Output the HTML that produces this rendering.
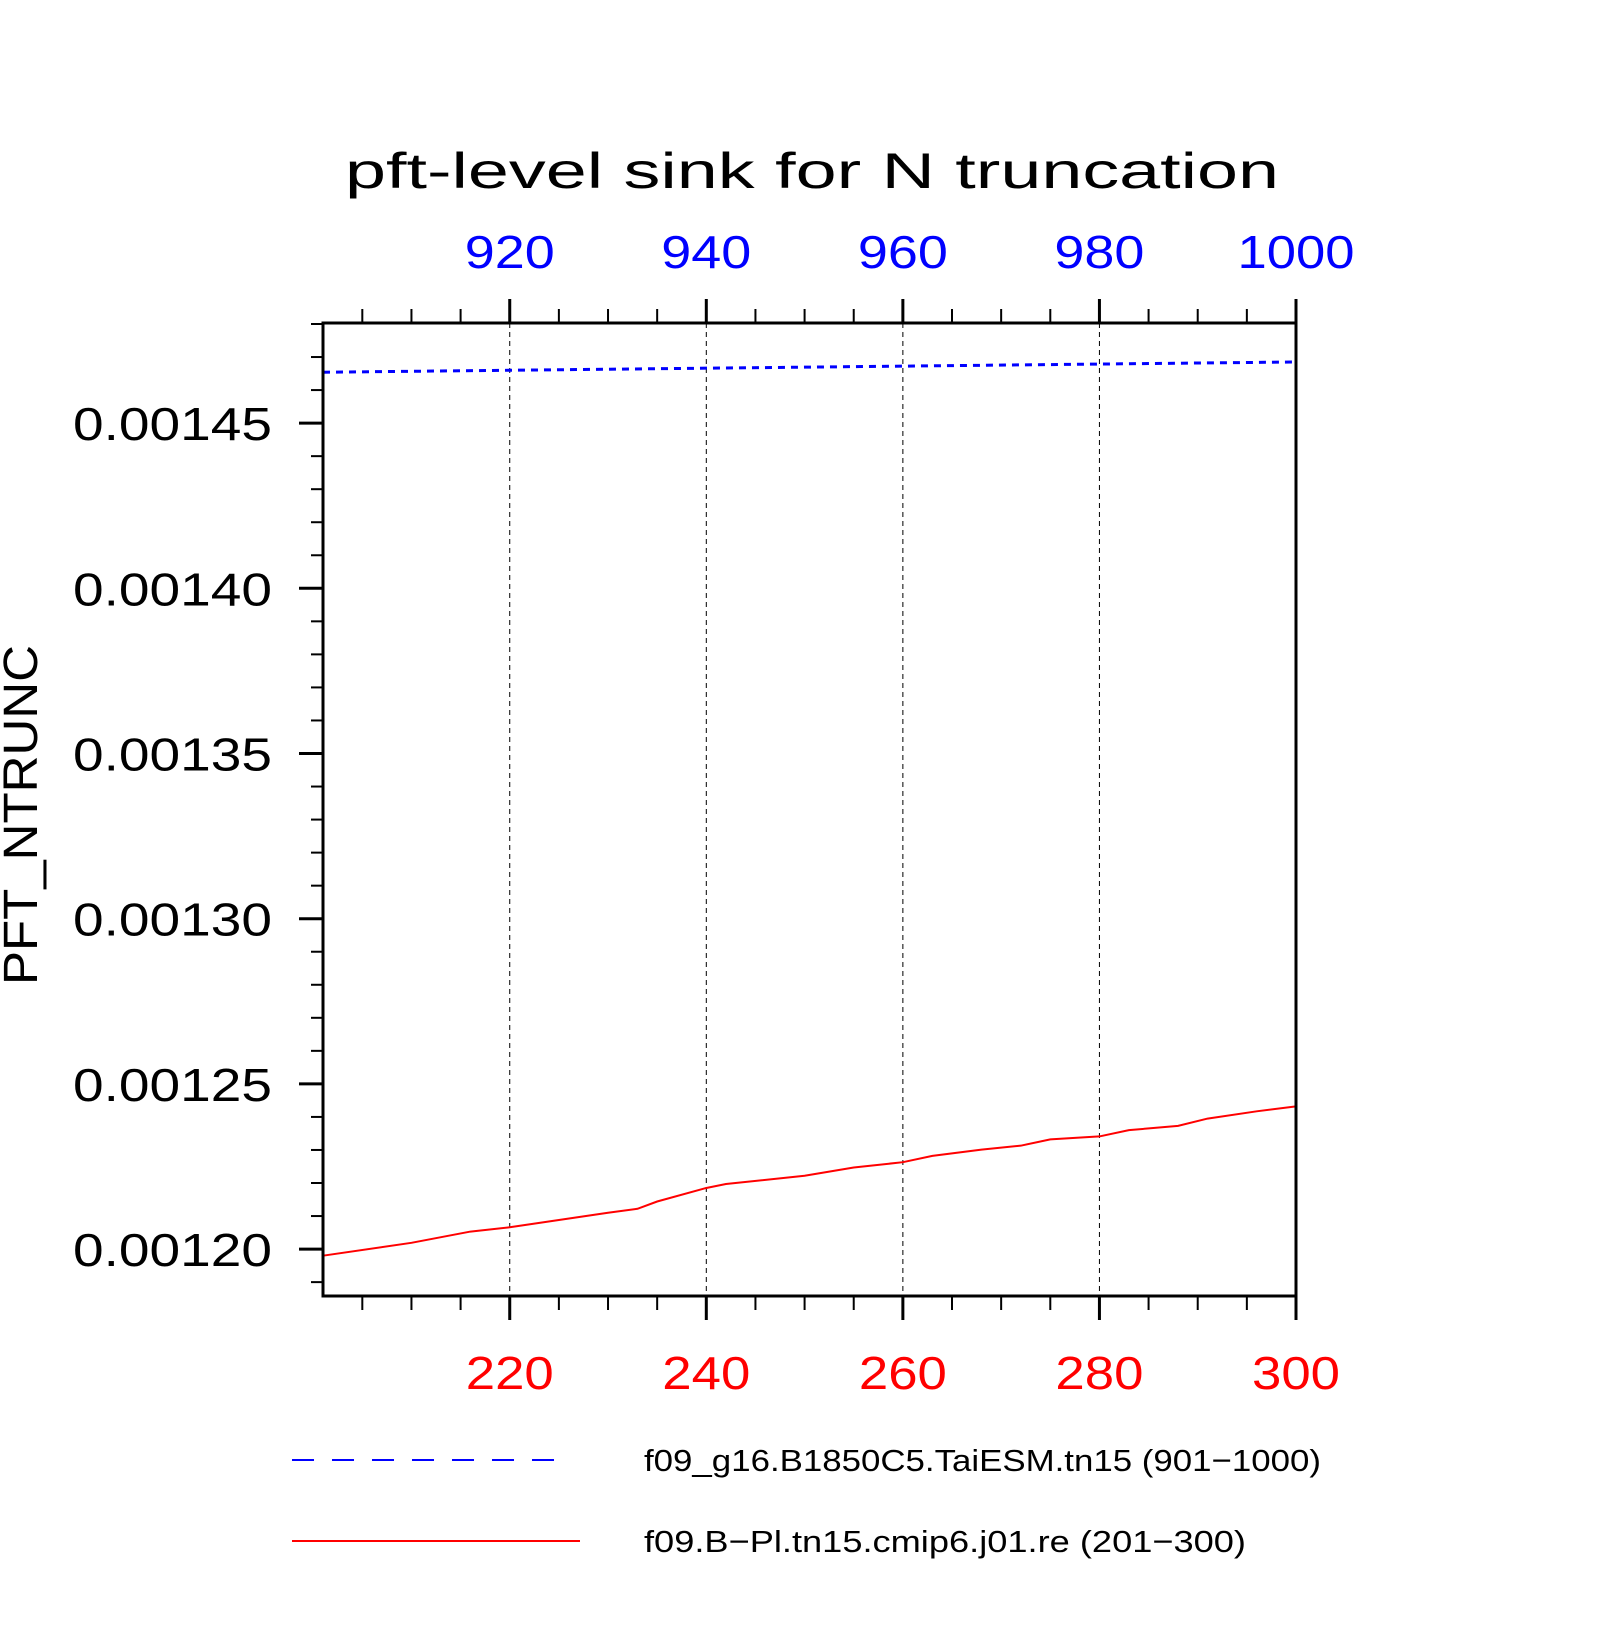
<!DOCTYPE html>
<html><head><meta charset="utf-8"><style>
html,body{margin:0;padding:0;background:#fff;}
svg text{font-family:"Liberation Sans",sans-serif;}
</style></head><body>
<svg id="chart" width="1620" height="1620" viewBox="0 0 1620 1620" xmlns="http://www.w3.org/2000/svg">
<g id="grid"></g>
<g id="series"></g>
<rect x="323" y="323" width="973" height="973" fill="none" stroke="#000" stroke-width="3"/>
<g id="axes"></g>
<text x="812" y="188" font-size="50" text-anchor="middle" fill="#000" textLength="934" lengthAdjust="spacingAndGlyphs">pft-level sink for N truncation</text>
<text transform="translate(37,815) rotate(-90)" font-size="48" text-anchor="middle" fill="#000" textLength="340" lengthAdjust="spacingAndGlyphs">PFT_NTRUNC</text>
<g>
<line x1="292" y1="1460" x2="560" y2="1460" stroke="#0000ff" stroke-width="2" stroke-dasharray="22,18"/>
<text x="644" y="1471" font-size="31" fill="#000" textLength="677" lengthAdjust="spacingAndGlyphs">f09_g16.B1850C5.TaiESM.tn15 (901−1000)</text>
<line x1="292" y1="1541" x2="580" y2="1541" stroke="#ff0000" stroke-width="2"/>
<text x="644" y="1552" font-size="31" fill="#000" textLength="602" lengthAdjust="spacingAndGlyphs">f09.B−Pl.tn15.cmip6.j01.re (201−300)</text>
</g>
</svg>
<script>
const yearsBottom=[201,210,216,220,225,230,233,235,240,242,250,255,260,263,268,272,275,280,283,288,291,296,300];
const redValues=[0.0011980,0.0012019,0.0012053,0.0012066,0.0012088,0.0012110,0.0012122,0.0012144,0.0012185,0.0012197,0.0012222,0.0012247,0.0012263,0.0012282,0.0012301,0.0012313,0.0012332,0.0012341,0.0012360,0.0012373,0.0012395,0.0012417,0.0012432];
const yearsTop=[901,1000];
const blueValues=[0.0014654,0.0014685];
const yTicks=[0.00120,0.00125,0.00130,0.00135,0.00140,0.00145];
const yTickLabels=["0.00120","0.00125","0.00130","0.00135","0.00140","0.00145"];
const xTicksBottom=[220,240,260,280,300];
const xTicksTop=[920,940,960,980,1000];

const NS="http://www.w3.org/2000/svg";
const L=323,R=1296,T=323,B=1296;
const yMin=0.0011858,yMax=0.0014803;
const xb=v=>L+(v-201)/(300-201)*(R-L);
const xt=v=>L+(v-901)/(1000-901)*(R-L);
const y=v=>B-(v-yMin)/(yMax-yMin)*(B-T);
function mk(tag,attrs,parent){const e=document.createElementNS(NS,tag);for(const k in attrs)e.setAttribute(k,attrs[k]);parent.appendChild(e);return e;}
const grid=document.getElementById('grid'),axes=document.getElementById('axes'),ser=document.getElementById('series');

xTicksBottom.forEach(v=>{
  if(v<300){const g=mk('line',{x1:xb(v),x2:xb(v),y1:T,y2:B,stroke:'#000','stroke-width':1,'stroke-dasharray':'5,4'},grid);
  
  }
});
for(let v=205;v<=300;v+=5){
  const major=(v%20===0);
  const len=major?24:14;
  const t1=mk('line',{x1:xb(v),x2:xb(v),y1:B,y2:B+len,stroke:'#000','stroke-width':major?3:2},axes);
  
  
  const vt=v+700;
  const t2=mk('line',{x1:xt(vt),x2:xt(vt),y1:T,y2:T-len,stroke:'#000','stroke-width':major?3:2},axes);
  
  
}
xTicksBottom.forEach(v=>{
  const t=mk('text',{x:xb(v),y:1389,'font-size':46,'text-anchor':'middle',fill:'#ff0000',textLength:88,lengthAdjust:'spacingAndGlyphs'},axes);
  t.textContent=String(v);
  
  
});
xTicksTop.forEach(v=>{
  const s=String(v);
  const t=mk('text',{x:xt(v),y:268,'font-size':46,'text-anchor':'middle',fill:'#0000ff',textLength:s.length>3?117:90,lengthAdjust:'spacingAndGlyphs'},axes);
  t.textContent=s;
  
  
});
for(let i=0;i<=30;i++){
  const v=0.00119+i*0.00001;
  if(v<yMin||v>yMax)continue;
  const major=Math.abs((v*100000)%5)<0.01||Math.abs((v*100000)%5-5)<0.01;
  const len=major?24:12;
  const t=mk('line',{x1:L-len,x2:L,y1:y(v),y2:y(v),stroke:'#000','stroke-width':major?3:2},axes);
  
  
}
yTicks.forEach((v,i)=>{
  const t=mk('text',{x:272,y:y(v)+17,'font-size':46,'text-anchor':'end',fill:'#000',textLength:199,lengthAdjust:'spacingAndGlyphs'},axes);
  t.textContent=yTickLabels[i];
  
  
});
const blue=mk('polyline',{points:yearsTop.map((v,i)=>xt(v)+','+y(blueValues[i])).join(' '),fill:'none',stroke:'#0000ff','stroke-width':3,'stroke-dasharray':'7,6'},ser);


const red=mk('polyline',{points:yearsBottom.map((v,i)=>xb(v)+','+y(redValues[i])).join(' '),fill:'none',stroke:'#ff0000','stroke-width':2},ser);


</script>
</body></html>
